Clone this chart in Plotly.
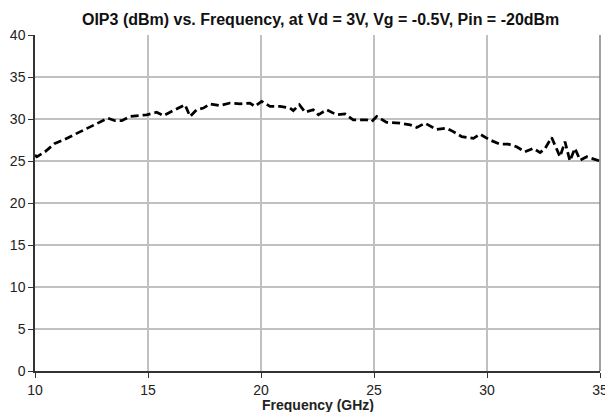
import plotly.graph_objects as go

freq_ghz = [10.0, 10.08, 10.44, 10.88, 11.25, 11.99, 12.73, 13.23, 13.54, 13.84, 14.2, 14.94,
            15.38, 15.68, 16.12, 16.64, 16.86, 17.15, 17.45, 17.74, 18.19, 18.63, 19.07, 19.51,
            19.73, 20.03, 20.4, 20.84, 21.28, 21.43, 21.7, 21.95, 22.31, 22.54, 22.9, 23.35,
            23.72, 24.08, 24.68, 24.9, 25.12, 25.56, 26.15, 26.6, 26.89, 27.26, 27.77, 28.22,
            28.51, 28.88, 29.4, 29.69, 30.13, 30.58, 30.94, 31.31, 31.68, 32.05, 32.35, 32.57,
            32.86, 33.23, 33.45, 33.67, 33.89, 34.12, 34.41, 34.93, 35.0]
oip3_dbm = [25.7, 25.5, 26.1, 27.1, 27.5, 28.5, 29.5, 30.1, 29.8, 29.8, 30.3, 30.5,
            30.8, 30.4, 31.0, 31.7, 30.3, 31.1, 31.3, 31.8, 31.6, 31.9, 31.8, 31.9,
            31.5, 32.1, 31.5, 31.5, 31.3, 31.0, 31.7, 30.8, 31.1, 30.5, 31.1, 30.5,
            30.6, 29.9, 29.9, 29.7, 30.3, 29.6, 29.5, 29.3, 29.0, 29.5, 28.75, 28.9,
            28.5, 27.9, 27.7, 28.2, 27.5, 27.0, 27.0, 26.7, 26.1, 26.5, 26.0, 26.5,
            27.8, 25.5, 27.3, 25.0, 26.5, 25.1, 25.5, 25.0, 25.0]

x_ticks = [10, 15, 20, 25, 30, 35]
y_ticks = [0, 5, 10, 15, 20, 25, 30, 35, 40]

title_text = "OIP3 (dBm) vs. Frequency, at Vd = 3V, Vg = -0.5V, Pin = -20dBm"
x_title = "Frequency (GHz)"

fig = go.Figure()
fig.add_trace(go.Scatter(
    x=freq_ghz, y=oip3_dbm, mode="lines",
    line=dict(color="black", width=2.75, dash="8px,4px"),
    showlegend=False,
))

fig.update_layout(
    width=605, height=412,
    margin=dict(l=35, r=5, t=35, b=41, autoexpand=False),
    paper_bgcolor="white", plot_bgcolor="white",
    font=dict(family="Liberation Sans, Arial, sans-serif", size=14, color="#222"),
    title=dict(text="<b>" + title_text + "</b>", x=0.53, xanchor="center",
               y=0.952, yanchor="middle", font=dict(size=16, color="#111")),
    showlegend=False,
)
fig.update_xaxes(
    range=[10, 35], tickvals=x_ticks, ticktext=[str(v) for v in x_ticks],
    showgrid=True, gridcolor="#c0c0c0", gridwidth=1.5,
    showline=True, linecolor="#333", linewidth=1.5,
    ticks="outside", ticklen=5, tickcolor="#333",
    mirror=False, zeroline=False, tickfont=dict(size=14),
    automargin=False, ticklabeloverflow="allow",
)
fig.update_yaxes(
    range=[0, 40], tickvals=y_ticks, ticktext=[str(v) for v in y_ticks],
    showgrid=True, gridcolor="#c0c0c0", gridwidth=1.5,
    showline=True, linecolor="#333", linewidth=1.5,
    ticks="outside", ticklen=5, tickcolor="#333",
    zeroline=False, tickfont=dict(size=14), automargin=False,
)
fig.add_shape(type="line", xref="paper", yref="paper", x0=1, x1=1, y0=0, y1=1,
              line=dict(color="#808080", width=1.5))
fig.add_annotation(text="<b>" + x_title + "</b>", xref="paper", yref="paper",
                   x=0.5, y=0, yshift=-34, xanchor="center", yanchor="middle",
                   showarrow=False, font=dict(size=14, color="#222"))

fig.write_html("out.html")
